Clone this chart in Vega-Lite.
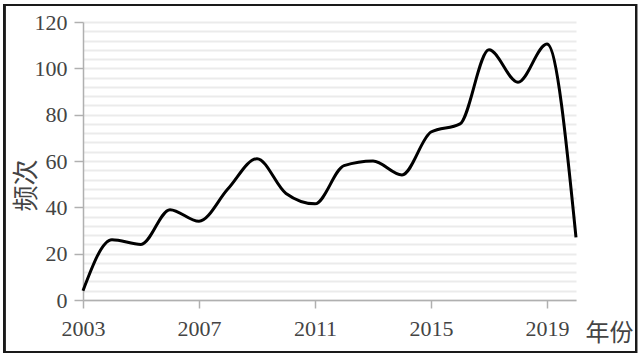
{
  "$schema": "https://vega.github.io/schema/vega-lite/v6.json",
  "autosize": "none",
  "width": 493,
  "height": 278,
  "padding": {"left": 83, "top": 22, "right": 64, "bottom": 56},
  "background": "white",
  "config": {"view": {"stroke": null}, "font": "Liberation Serif"},
  "data": {"values": [
    {"year": 2003, "count": 4},
    {"year": 2004, "count": 26},
    {"year": 2005, "count": 24},
    {"year": 2006, "count": 39},
    {"year": 2007, "count": 34},
    {"year": 2008, "count": 48},
    {"year": 2009, "count": 61},
    {"year": 2010, "count": 46},
    {"year": 2011, "count": 41.5},
    {"year": 2012, "count": 58},
    {"year": 2013, "count": 60},
    {"year": 2014, "count": 54},
    {"year": 2015, "count": 72.5},
    {"year": 2016, "count": 76},
    {"year": 2017, "count": 108},
    {"year": 2018, "count": 94},
    {"year": 2019, "count": 110.5},
    {"year": 2020, "count": 27}
  ]},
  "layer": [
    {
      "mark": {"type": "line", "interpolate": "monotone", "color": "#000000", "strokeWidth": 3},
      "encoding": {
        "x": {
          "field": "year", "type": "quantitative",
          "scale": {"domain": [2003, 2020], "nice": false, "zero": false},
          "axis": {
            "values": [2003, 2007, 2011, 2015, 2019],
            "tickCount": 20,
            "format": "d",
            "grid": false,
            "labelFlush": false,
            "domainColor": "#b0b0b0", "domainWidth": 1.5,
            "tickColor": "#b0b0b0", "tickWidth": 1.5, "tickSize": 8,
            "labelFont": "Liberation Serif", "labelFontSize": 22, "labelColor": "#444444", "labelPadding": 10,
            "title": "年份",
            "titleFont": "Liberation Serif, Noto Sans CJK SC", "titleFontSize": 24, "titleFontWeight": "normal", "titleColor": "#444444",
            "titleX": 502, "titleY": 33, "titleAlign": "left", "titleBaseline": "middle"
          }
        },
        "y": {
          "field": "count", "type": "quantitative",
          "scale": {"domain": [0, 120], "nice": false},
          "axis": {
            "values": [0, 4, 8, 12, 16, 20, 24, 28, 32, 36, 40, 44, 48, 52, 56, 60, 64, 68, 72, 76, 80, 84, 88, 92, 96, 100, 104, 108, 112, 116, 120],
            "tickCount": 40,
            "labelExpr": "datum.value % 20 === 0 ? datum.label : ''",
            "grid": true, "gridColor": "#ebebeb", "gridWidth": 2,
            "domainColor": "#b0b0b0", "domainWidth": 1.5,
            "tickColor": "#b0b0b0", "tickWidth": 1.5, "tickSize": 9,
            "tickOpacity": {"condition": {"test": "datum.value % 20 === 0", "value": 1}, "value": 0},
            "labelFont": "Liberation Serif", "labelFontSize": 22, "labelColor": "#444444", "labelPadding": 7,
            "labelOverlap": false,
            "title": "频次",
            "titleFont": "Liberation Serif, Noto Sans CJK SC", "titleFontSize": 26, "titleFontWeight": "normal", "titleColor": "#444444",
            "titleAngle": -90, "titleX": -57, "titleY": 163, "titleAlign": "center", "titleBaseline": "middle"
          }
        }
      }
    },
    {
      "mark": {"type": "rect", "filled": false, "stroke": "#1a1a1a", "strokeWidth": 2, "clip": false},
      "encoding": {
        "x": {"datum": 2000.28, "type": "quantitative"},
        "x2": {"datum": 2022.07},
        "y": {"datum": -22.45, "type": "quantitative"},
        "y2": {"datum": 127.34}
      }
    }
  ]
}
